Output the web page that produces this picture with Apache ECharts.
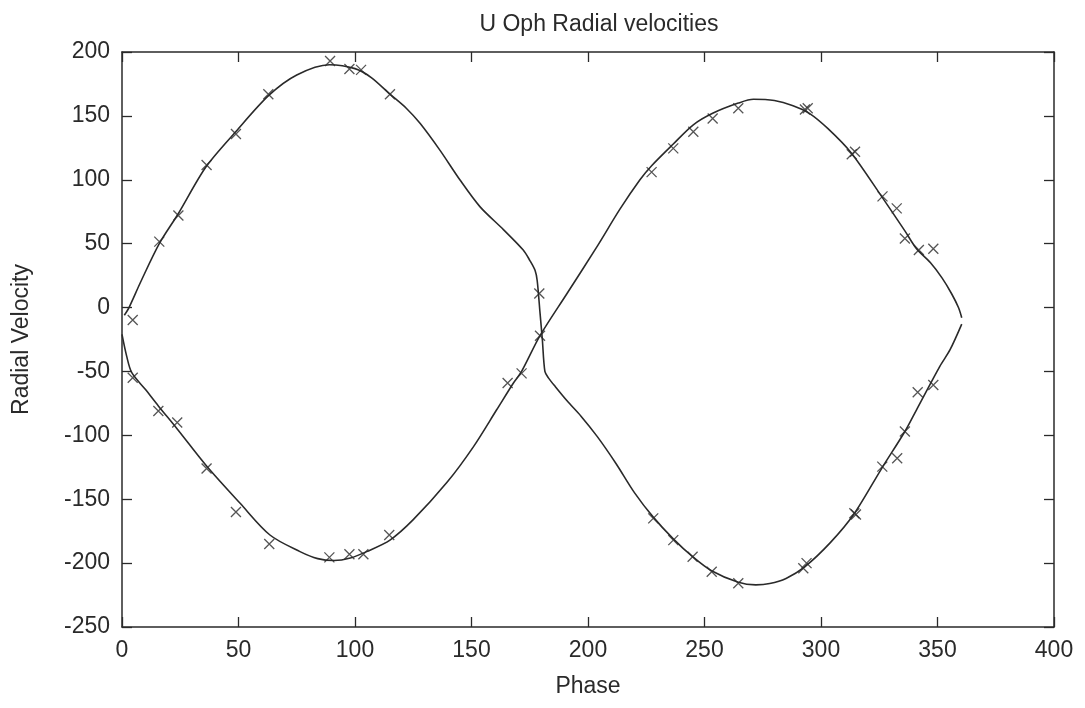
<!DOCTYPE html>
<html>
<head>
<meta charset="utf-8">
<script src="https://cdn.jsdelivr.net/npm/echarts@6/dist/echarts.min.js"></script>
<style>
  html, body { margin: 0; padding: 0; background: #fff; }
  #chart { width: 1085px; height: 708px; }
</style>
</head>
<body>
<div id="chart"></div>
<script>
// observed radial velocities (phase, km/s)
var obsPhase = [4.6, 16, 24.2, 36.3, 48.9, 62.8, 89.3, 97.6, 102.6, 115,
  4.6, 15.6, 23.7, 36.3, 48.9, 63.2, 89, 97.6, 103.6, 114.7,
  179.1, 179.4, 171.5, 165.5,
  227.3, 236.6, 245.2, 253.5, 264.5, 293.1, 294.3, 313.2, 314.6, 326.4, 332.5, 336, 342, 348.2,
  228, 236.6, 244.9, 253.1, 264.5, 292.4, 293.8, 314.3, 315, 326.3, 332.7, 336, 341.5, 348.2];
var obsVel = [-9.7, 51.6, 72, 111.6, 135.8, 167, 193, 186.7, 186, 167,
  -55, -81, -90, -126, -160, -185, -195.5, -193, -193, -178,
  11, -22, -51.5, -59,
  106, 124.6, 137.6, 148, 156, 155, 156, 120, 122, 87, 77.6, 54, 45, 46,
  -165, -182, -195, -206.7, -215.8, -204, -200, -161, -162, -124.5, -118, -97, -66.3, -60.6];

// fitted curve, primary
var fitPhaseA = [1, 3, 8, 16, 24, 36, 49, 63, 75, 89, 100, 107, 115, 122, 128, 136.5, 145, 153.6, 163.7,
  172.2, 175, 177.3, 178.2, 179.4, 180.4, 181.5, 183, 186, 191, 197, 204, 212, 220, 228, 236.6,
  244.9, 253, 264.5, 272, 278, 285, 293, 304, 314, 326, 336, 341, 351, 355.4, 360.4];
var fitVelA = [-6, 0, 20, 50, 73, 110, 138, 166, 182, 190, 187, 180, 167, 156, 144, 123, 100, 79, 61,
  45, 37, 29, 21, -4, -25, -50, -55, -62, -73, -85, -101, -122, -145, -164, -181,
  -195, -206, -215, -217, -216, -212, -203, -184, -162, -126, -97, -80, -46, -33, -13];

// fitted curve, secondary
var fitPhaseB = [0, 2, 4.2, 10, 15.6, 23.7, 36.3, 50.6, 63.5, 76.4, 84, 91, 98, 105, 115, 125, 139.4, 150.8,
  160.8, 168, 171.5, 179.4, 191, 203.8, 213.7, 222.3, 227.3, 236.6, 245.2, 253.5, 264.5, 271, 280,
  288, 295, 303, 313, 326, 336, 341, 347, 352, 356, 359, 360.4];
var fitVelB = [-21, -38, -51, -64, -77, -95, -124, -153, -178, -191, -196.5, -198, -196, -191, -182, -166, -137, -109,
  -80, -59, -50, -22, 11, 47.5, 77, 100, 111, 128, 143, 152, 160, 163, 162,
  158, 152, 140, 121, 87, 60, 46, 35, 23, 11, 0, -8];

function pairs(xs, ys) {
  return xs.map(function (x, i) { return [x, ys[i]]; });
}

var ink = '#2a2a2a';
var font = 'Liberation Sans, Arial, sans-serif';
var fs = 23;

function frameAxis(extra) {
  var base = {
    type: 'value',
    axisLine: { show: true, onZero: false, lineStyle: { color: ink, width: 1.5 } },
    axisTick: { show: true, inside: true, length: 10, lineStyle: { color: ink, width: 1.3 } },
    axisLabel: { show: false },
    splitLine: { show: false }
  };
  return Object.assign(base, extra);
}

var myChart = echarts.init(document.getElementById('chart'));
var option = {
  backgroundColor: '#fff',
  animation: false,
  title: {
    text: 'U Oph Radial velocities',
    left: 594,
    top: 8,
    textAlign: 'center',
    textStyle: { fontFamily: font, fontSize: fs, fontWeight: 'normal', color: ink }
  },
  grid: { left: 122, right: 31, top: 52, bottom: 81 },
  xAxis: [
    frameAxis({
      position: 'bottom', min: 0, max: 400, interval: 50,
      name: 'Phase', nameLocation: 'middle', nameGap: 48,
      nameTextStyle: { fontFamily: font, fontSize: fs, color: ink },
      axisLabel: { show: true, fontFamily: font, fontSize: fs, color: ink, margin: 12 }
    }),
    frameAxis({ position: 'top', min: 0, max: 400, interval: 50 })
  ],
  yAxis: [
    frameAxis({
      position: 'left', min: -250, max: 200, interval: 50,
      name: 'Radial Velocity', nameLocation: 'middle', nameGap: 89,
      nameTextStyle: { fontFamily: font, fontSize: fs, color: ink },
      axisLabel: { show: true, fontFamily: font, fontSize: fs, color: ink, margin: 12 }
    }),
    frameAxis({ position: 'right', min: -250, max: 200, interval: 50 })
  ],
  series: [
    {
      name: 'fit A', type: 'line', xAxisIndex: 0, yAxisIndex: 0,
      data: pairs(fitPhaseA, fitVelA),
      smooth: 0.3, showSymbol: false,
      lineStyle: { color: ink, width: 1.6 }
    },
    {
      name: 'fit B', type: 'line', xAxisIndex: 0, yAxisIndex: 0,
      data: pairs(fitPhaseB, fitVelB),
      smooth: 0.3, showSymbol: false,
      lineStyle: { color: ink, width: 1.6 }
    },
    {
      name: 'observed', type: 'scatter', xAxisIndex: 0, yAxisIndex: 0,
      data: pairs(obsPhase, obsVel),
      symbol: 'path://M0,0L10,10M0,10L10,0',
      symbolSize: 10,
      itemStyle: { color: 'rgba(0,0,0,0)', borderColor: ink, borderWidth: 1.3 }
    }
  ]
};
myChart.setOption(option);
</script>
</body>
</html>
